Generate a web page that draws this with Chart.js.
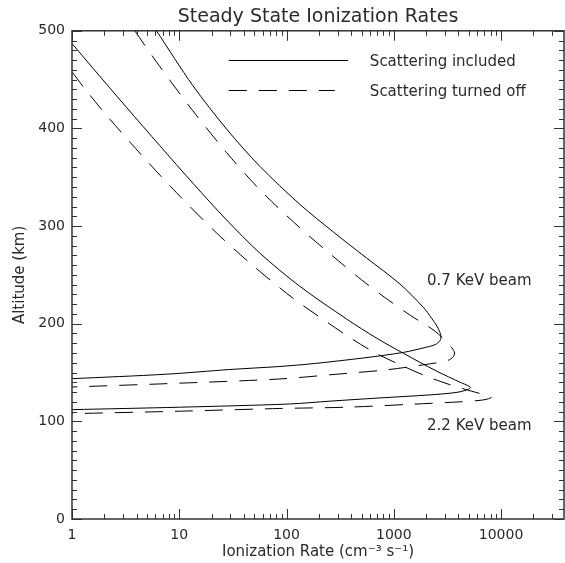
<!DOCTYPE html>
<html><head><meta charset="utf-8">
<script src="https://cdn.jsdelivr.net/npm/chart.js@4.4.1/dist/chart.umd.min.js"></script>
<style>html,body{margin:0;padding:0;background:#fff}</style>
</head><body>
<canvas id="c" width="565" height="563"></canvas>
<script>
const chartTitle = 'Steady State Ionization Rates';
const xTitle = 'Ionization Rate (cm\u207B\u00B3 s\u207B\u00B9)';
const yTitle = 'Altitude (km)';
const seriesNames = ['Scattering included', 'Scattering turned off'];
const beamLabels = ['0.7 KeV beam', '2.2 KeV beam'];
const beamLabelPos = [[2040, 244], [2040, 94.7]];
const xMajorTicks = [1, 10, 100, 1000, 10000];
const xTickLabels = ['1', '10', '100', '1000', '10000'];
const yMajorTicks = [0, 100, 200, 300, 400, 500];
const yTickLabels = ['0', '100', '200', '300', '400', '500'];
const xRange = [1, 38600];
const yRange = [0, 500];

// 0.7 keV, scattering included (solid)
const incl07Rate = [6.13, 13.4, 27.6, 56.4, 133, 272, 557, 1140, 1880, 2240, 2550, 2750, 2690, 2420, 2020, 1224, 518, 177, 86.6, 29.6, 7.6, 1];
const incl07Alt  = [500, 443.8, 399.4, 361.2, 322.3, 294.1, 267.3, 240.7, 216.9, 205.9, 196.7, 187.7, 182.6, 178.5, 176, 170.6, 164.9, 159.1, 156.2, 153.1, 148.3, 143.7];
// 0.7 keV, scattering turned off (dashed)
const off07Rate = [3.85, 6.58, 13.4, 27.6, 56.4, 133, 303, 501, 826, 1435, 2430, 3480, 3680, 3560, 3130, 1880, 857, 254, 86.6, 10.1, 1];
const off07Alt  = [500, 463.4, 418, 375.3, 337.2, 298.3, 264.6, 244.9, 226.8, 208.4, 192.2, 175.2, 170, 165.7, 162.1, 157.9, 152.8, 147.7, 143.4, 139.1, 135.2];
// 2.2 keV, scattering included (solid)
const incl22Rate = [1, 1.57, 3.22, 6.58, 13.4, 27.6, 56.4, 133, 363, 692, 1224, 2510, 4140, 5200, 4600, 3720, 2170, 742, 254, 107, 10.1, 1];
const incl22Alt  = [487, 461.6, 421.6, 382.4, 343.9, 306.3, 272.3, 238.3, 204.8, 185.2, 169.8, 151.4, 140.1, 134.8, 131.6, 129.4, 127.1, 124, 120.7, 117.8, 114.5, 112];
// 2.2 keV, scattering turned off (dashed)
const off22Rate = [1, 1.40, 2.25, 4.59, 9.42, 22.2, 48.8, 115, 236, 404, 667, 1224, 2020, 3330, 5320, 7230, 8130, 7380, 6220, 4140, 1517, 363, 86.6, 10.1, 1];
const off22Alt  = [457.9, 437, 409.6, 371.1, 334.2, 293.1, 259.4, 226.1, 202, 184.7, 170.3, 156.5, 146.1, 137.6, 130.9, 126.8, 124.8, 122.7, 121.4, 120, 117.6, 114.5, 113.2, 110.4, 107.9];

const FONT = "'DejaVu Sans', sans-serif";
const INK = '#2a2a2a';
const DASH = [18, 12];

function pts(xs, ys) { return xs.map((v, i) => ({x: v, y: ys[i]})); }
function ds(label, xs, ys, dashed) {
  return {label, data: pts(xs, ys), showLine: true, pointRadius: 0, borderColor: '#000',
    borderWidth: 1, borderDash: dashed ? DASH : [], tension: 0.3, fill: false};
}

const xTickValues = [];
for (let d = 0; d < xMajorTicks.length; d++) {
  for (let m = 1; m <= 9; m++) {
    const v = m * xMajorTicks[d];
    if (v <= xRange[1]) xTickValues.push(v);
  }
}

const frameTicks = {
  id: 'frameTicks',
  afterDatasetsDraw(chart) {
    const {ctx, chartArea: a, scales: {x, y}} = chart;
    ctx.save();
    ctx.strokeStyle = '#333';
    ctx.lineWidth = 1;
    ctx.beginPath();
    x.ticks.forEach(t => {
      const px = Math.round(x.getPixelForValue(t.value)) + 0.5;
      const len = t.major ? 10 : 5;
      ctx.moveTo(px, a.bottom); ctx.lineTo(px, a.bottom - len);
      ctx.moveTo(px, a.top); ctx.lineTo(px, a.top + len);
    });
    y.ticks.forEach(t => {
      const py = Math.round(y.getPixelForValue(t.value)) + 0.5;
      const len = t.major ? 10 : 5;
      ctx.moveTo(a.left, py); ctx.lineTo(a.left + len, py);
      ctx.moveTo(a.right, py); ctx.lineTo(a.right - len, py);
    });
    ctx.stroke();
    ctx.lineWidth = 1.5;
    ctx.strokeRect(a.left, a.top, a.right - a.left, a.bottom - a.top);

    // legend
    ctx.font = '15px ' + FONT;
    ctx.fillStyle = INK;
    ctx.textBaseline = 'middle';
    ctx.textAlign = 'left';
    const lx0 = x.getPixelForValue(29), lx1s = x.getPixelForValue(376), lx1d = x.getPixelForValue(282);
    const tx = x.getPixelForValue(598);
    const ly = [y.getPixelForValue(470.2), y.getPixelForValue(439.5)];
    ctx.strokeStyle = '#000';
    ctx.lineWidth = 1;
    chart.data.datasets.slice(0, 2).forEach((d, i) => {
      ctx.setLineDash(d.borderDash);
      ctx.beginPath();
      ctx.moveTo(lx0, Math.round(ly[i]) + 0.5);
      ctx.lineTo(i === 0 ? lx1s : lx1d, Math.round(ly[i]) + 0.5);
      ctx.stroke();
      ctx.fillText(seriesNames[i], tx, ly[i] + 2);
    });
    ctx.setLineDash([]);
    beamLabels.forEach((s, i) => {
      ctx.fillText(s, x.getPixelForValue(beamLabelPos[i][0]), y.getPixelForValue(beamLabelPos[i][1]));
    });
    ctx.restore();
  }
};

new Chart(document.getElementById('c'), {
  type: 'scatter',
  data: {
    datasets: [
      ds(seriesNames[0], incl07Rate, incl07Alt, false),
      ds(seriesNames[1], off07Rate, off07Alt, true),
      ds(seriesNames[0], incl22Rate, incl22Alt, false),
      ds(seriesNames[1], off22Rate, off22Alt, true)
    ]
  },
  options: {
    responsive: false,
    animation: false,
    layout: {padding: {left: 0, right: 1, top: 0, bottom: 0}},
    plugins: {
      legend: {display: false},
      tooltip: {enabled: false},
      title: {display: true, fullSize: false, text: chartTitle, color: INK,
        font: {family: FONT, size: 19, weight: 'normal'}, padding: {top: 6, bottom: 2}}
    },
    scales: {
      x: {
        type: 'logarithmic', min: xRange[0], max: xRange[1],
        grid: {display: false, drawTicks: false},
        border: {display: false},
        afterBuildTicks: s => { s.ticks = xTickValues.map(v => ({value: v, major: xMajorTicks.includes(v)})); },
        afterFit: s => { s.height = 44; },
        ticks: {autoSkip: false, maxRotation: 0, padding: 8, color: INK,
          font: {family: FONT, size: 14},
          callback: (v) => { const i = xMajorTicks.indexOf(v); return i >= 0 ? xTickLabels[i] : ''; }},
        title: {display: true, text: xTitle, color: INK, font: {family: FONT, size: 15}, padding: {top: 0, bottom: 2}}
      },
      y: {
        type: 'linear', min: yRange[0], max: yRange[1],
        grid: {display: false, drawTicks: false},
        border: {display: false},
        afterBuildTicks: s => { s.ticks = s.ticks.map(t => ({value: t.value, major: yMajorTicks.includes(t.value)})); },
        afterFit: s => { s.width = 72; },
        ticks: {stepSize: 10, autoSkip: false, padding: 7, color: INK,
          font: {family: FONT, size: 14},
          callback: (v) => { const i = yMajorTicks.indexOf(v); return i >= 0 ? yTickLabels[i] : ''; }},
        title: {display: true, text: yTitle, color: INK, font: {family: FONT, size: 15}, padding: {top: 11, bottom: 0}}
      }
    }
  },
  plugins: [frameTicks]
});
</script>
</body></html>
